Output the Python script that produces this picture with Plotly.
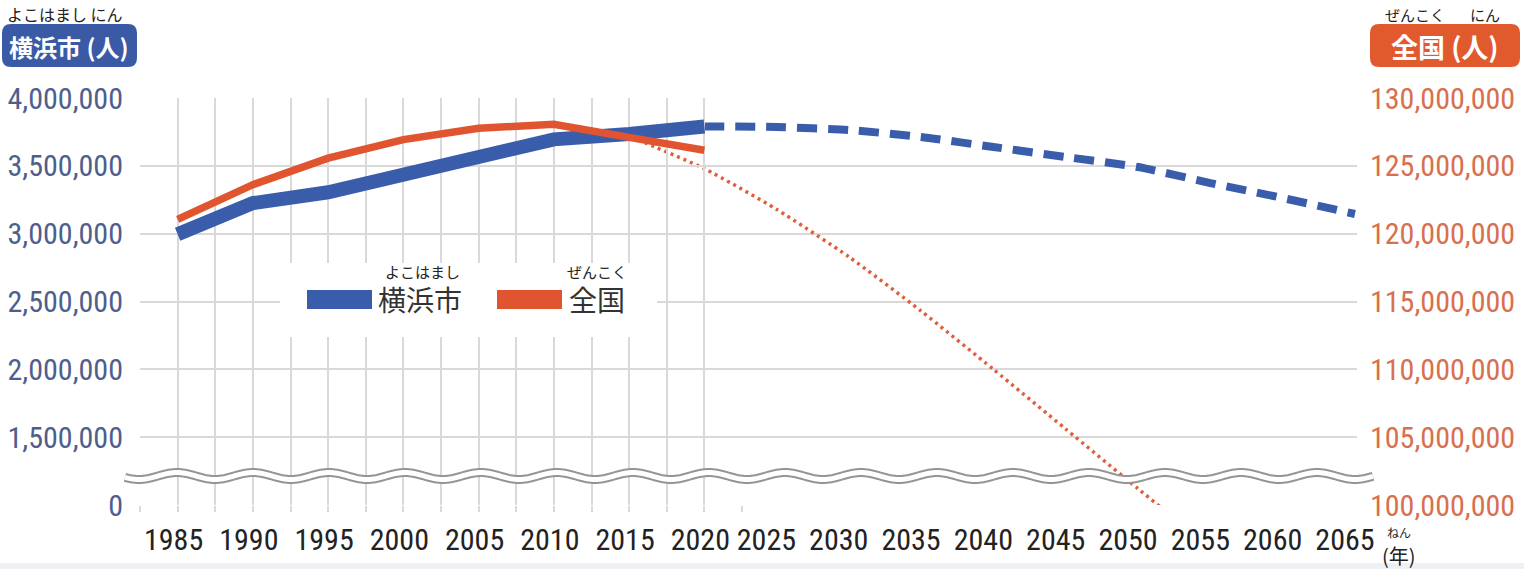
import numpy as np
import plotly.graph_objects as go

# ---------------- data ----------------
years_hist = [1985, 1990, 1995, 2000, 2005, 2010, 2015, 2020]
yokohama_hist = [2995000, 3225000, 3305000, 3430000, 3580000, 3695000, 3735000, 3790000]
japan_hist = [121050000, 123610000, 125570000, 126930000, 127770000, 128060000, 127100000, 126150000]

years_yoko_proj = [2020, 2025, 2030, 2035, 2040, 2045, 2050, 2055, 2060, 2065]
yokohama_proj = [3790000, 3786000, 3764000, 3713000, 3639000, 3565000, 3491000, 3373000, 3263000, 3145000]

years_japan_proj = [2015, 2020, 2025, 2030, 2035, 2040, 2045, 2050, 2055]
japan_proj = [127100000, 124800000, 121800000, 118300000, 114300000, 110000000, 105600000, 101200000, 96900000]

hist_ticks = [1985, 1990, 1995, 2000, 2005, 2010, 2015, 2020]
proj_ticks = [2025, 2030, 2035, 2040, 2045, 2050, 2055, 2060, 2065]
grid_half_years = [1982.5, 1987.5, 1992.5, 1997.5, 2002.5, 2007.5, 2012.5, 2017.5, 2022.5]

left_tickvals = [1000000, 1500000, 2000000, 2500000, 3000000, 3500000, 4000000]
left_ticktext = ["0", "1,500,000", "2,000,000", "2,500,000", "3,000,000", "3,500,000", "4,000,000"]
right_tickvals = [100000000, 105000000, 110000000, 115000000, 120000000, 125000000, 130000000]
right_ticktext = ["100,000,000", "105,000,000", "110,000,000", "115,000,000",
                  "120,000,000", "125,000,000", "130,000,000"]

# ---------------- style ----------------
FW, FH = 1524, 569
PL, PR, PT, PB = 140, 1357, 98, 505
W, H = PR - PL, PB - PT

BLUE = "#3a5dab"
RED = "#e0552f"
RED_DOT = "#de5f3c"
GRID = "#d9d9d9"
LEFTC = "#4e5e8e"
RIGHTC = "#d8704e"
NARROW = "Roboto Condensed, Roboto, sans-serif"
CJK = "Noto Sans CJK JP, sans-serif"


def px(x):
    return (x - PL) / W


def py(y):
    return (PB - y) / H


def rrect(x0, y0, x1, y1, r):
    pts = [("M", x0 + r, y0), ("L", x1 - r, y0), ("Q", x1, y0, x1, y0 + r),
           ("L", x1, y1 - r), ("Q", x1, y1, x1 - r, y1), ("L", x0 + r, y1),
           ("Q", x0, y1, x0, y1 - r), ("L", x0, y0 + r), ("Q", x0, y0, x0 + r, y0)]
    s = ""
    for p in pts:
        vals = p[1:]
        coords = [f"{px(vals[i]):.5f},{py(vals[i + 1]):.5f}" for i in range(0, len(vals), 2)]
        s += p[0] + " ".join(coords) + " "
    return s + "Z"


fig = go.Figure()

fig.add_trace(go.Scatter(x=years_hist, y=yokohama_hist, xaxis="x2", yaxis="y", mode="lines",
                         line=dict(color=BLUE, width=14), name="横浜市", hoverinfo="skip"))
fig.add_trace(go.Scatter(x=years_yoko_proj, y=yokohama_proj, xaxis="x", yaxis="y", mode="lines",
                         line=dict(color=BLUE, width=8, dash="20px,11px", shape="spline", smoothing=0.6),
                         name="横浜市（推計）", hoverinfo="skip"))
fig.add_trace(go.Scatter(x=years_japan_proj, y=japan_proj, xaxis="x", yaxis="y2", mode="lines",
                         line=dict(color=RED_DOT, width=3.5, dash="3px,4px", shape="spline", smoothing=0.6),
                         name="全国（推計）", hoverinfo="skip"))
fig.add_trace(go.Scatter(x=years_hist, y=japan_hist, xaxis="x2", yaxis="y2", mode="lines",
                         line=dict(color=RED, width=7.5), name="全国", hoverinfo="skip"))

# ---------------- shapes ----------------
shapes = []
xs = np.arange(125, 1374, 2.0)
ys = 476 - 3.5 * np.cos(2 * np.pi * (xs - 177) / 76)
wave = "M" + " L".join(f"{px(a):.5f},{py(b):.5f}" for a, b in zip(xs, ys))
shapes.append(dict(type="path", path=wave, xref="paper", yref="paper", layer="above",
                   line=dict(color="#959595", width=9)))
shapes.append(dict(type="path", path=wave, xref="paper", yref="paper", layer="above",
                   line=dict(color="white", width=5)))
shapes.append(dict(type="rect", xref="paper", yref="paper", layer="above",
                   x0=px(280), x1=px(657), y0=py(337), y1=py(263),
                   fillcolor="white", line=dict(width=0)))
shapes.append(dict(type="rect", xref="paper", yref="paper", layer="above",
                   x0=px(307), x1=px(372), y0=py(309), y1=py(290),
                   fillcolor=BLUE, line=dict(width=0)))
shapes.append(dict(type="rect", xref="paper", yref="paper", layer="above",
                   x0=px(497), x1=px(562), y0=py(309), y1=py(290),
                   fillcolor=RED, line=dict(width=0)))
shapes.append(dict(type="path", path=rrect(2, 24, 137, 67, 9), xref="paper", yref="paper",
                   layer="above", fillcolor="#3a5aa6", line=dict(width=0)))
shapes.append(dict(type="path", path=rrect(1370, 24, 1520, 67, 9), xref="paper", yref="paper",
                   layer="above", fillcolor="#e05a2d", line=dict(width=0)))
shapes.append(dict(type="rect", xref="paper", yref="paper", layer="below",
                   x0=px(0), x1=px(FW), y0=py(FH), y1=py(563),
                   fillcolor="#eef0f4", line=dict(width=0)))


def ann(text, x, y, size, color="#222222", xanchor="center", bold=False):
    if bold:
        text = "<b>" + text + "</b>"
    return dict(text=text, x=px(x), y=py(y), xref="paper", yref="paper", showarrow=False,
                xanchor=xanchor, yanchor="middle", font=dict(family=CJK, size=size, color=color))


annotations = [
    ann("よこはまし にん", 5, 14, 16, xanchor="left"),
    ann("横浜市 (人)", 69, 46, 24, color="white", bold=True),
    ann("ぜんこく", 1383, 15, 15, xanchor="left"),
    ann("にん", 1468, 15, 15, xanchor="left"),
    ann("全国 (人)", 1445, 46, 27, color="white", bold=True),
    ann("よこはまし", 422, 271, 15),
    ann("ぜんこく", 597, 271, 15),
    ann("横浜市", 376, 299, 28, color="#333333", xanchor="left"),
    ann("全国", 567, 299, 28, color="#333333", xanchor="left"),
    ann("ねん", 1399, 532, 12),
    ann("(年)", 1399, 555, 20),
]

xtickfont = dict(family=NARROW, size=30, color="#222222")

fig.update_layout(
    width=FW, height=FH,
    margin=dict(l=PL, r=FW - PR, t=PT, b=FH - PB, pad=0, autoexpand=False),
    paper_bgcolor="white", plot_bgcolor="rgba(0,0,0,0)",
    showlegend=False,
    shapes=shapes,
    annotations=annotations,
    xaxis=dict(domain=[0, 1], range=[1981.0, 2065.14], anchor="y", automargin=False,
               tickmode="array", tickvals=proj_ticks, ticks="outside", ticklen=6,
               tickcolor="rgba(0,0,0,0)", showgrid=False, zeroline=False, showline=False,
               tickfont=xtickfont, ticklabelshift=-10, ticklabelstandoff=2),
    xaxis2=dict(domain=[0, (742 - PL) / W], range=[1982.5, 2022.5], anchor="y", automargin=False,
                tickmode="array", tickvals=hist_ticks, ticks="outside", ticklen=6,
                tickcolor=GRID, tickwidth=2, showgrid=True, gridcolor=GRID, gridwidth=2,
                zeroline=False, showline=False, tickfont=xtickfont, ticklabelstandoff=2,
                ticklabelshift=-4,
                minor=dict(tickmode="array", tickvals=grid_half_years, showgrid=True,
                           gridcolor=GRID, gridwidth=2, ticks="outside", ticklen=6,
                           tickcolor=GRID, tickwidth=2)),
    yaxis=dict(range=[1000000, 4000000], anchor="x", automargin=False, tickmode="array",
               tickvals=left_tickvals, ticktext=left_ticktext, showgrid=True,
               gridcolor=GRID, gridwidth=2, zeroline=False, showline=False,
               tickfont=dict(family=NARROW, size=30, color=LEFTC), ticklabelstandoff=16),
    yaxis2=dict(range=[100000000, 130000000], overlaying="y", side="right", anchor="x",
                automargin=False, tickmode="array", tickvals=right_tickvals,
                ticktext=right_ticktext, showgrid=False, zeroline=False, showline=False,
                tickfont=dict(family=NARROW, size=30, color=RIGHTC), ticklabelstandoff=12),
)

fig.write_html("out.html", config={"displayModeBar": False},
               post_script="document.body.style.margin='0';document.body.style.overflow='hidden';")
